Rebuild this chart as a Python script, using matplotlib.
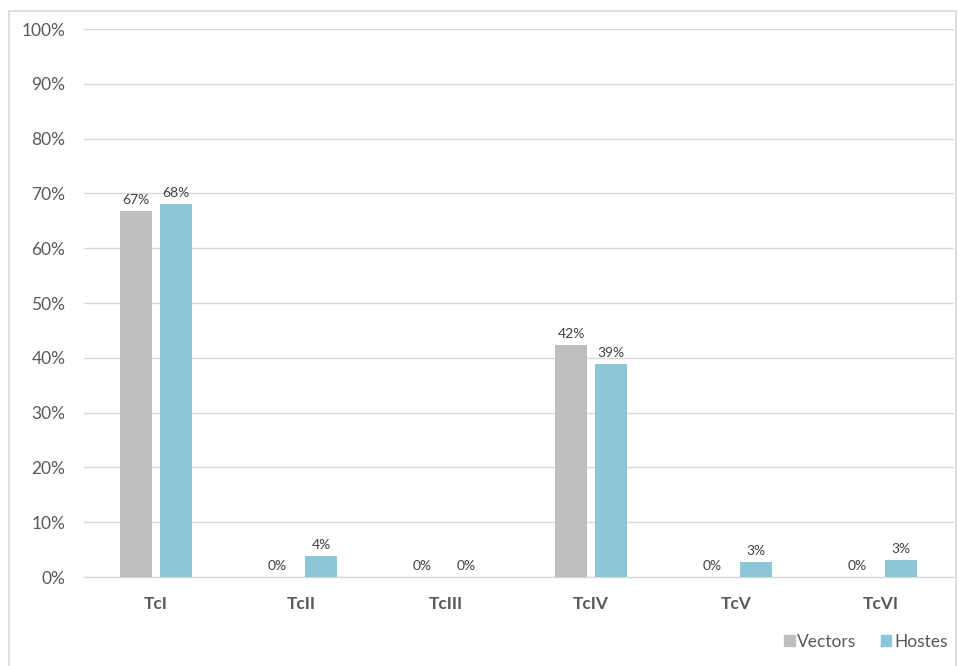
import matplotlib
matplotlib.use("Agg")
import matplotlib.pyplot as plt
import numpy as np
from matplotlib.patches import Rectangle, Patch

categories = ["TcI", "TcII", "TcIII", "TcIV", "TcV", "TcVI"]
vectors = [66.7, 0.0, 0.0, 42.3, 0.0, 0.0]
hostes = [68.0, 3.8, 0.0, 38.8, 2.7, 3.1]
vectors_labels = ["67%", "0%", "0%", "42%", "0%", "0%"]
hostes_labels = ["68%", "4%", "0%", "39%", "3%", "3%"]
yticks = list(range(0, 101, 10))

plt.rcParams['font.family'] = ['Lato', 'DejaVu Sans']

fig = plt.figure(figsize=(9.59, 6.66), dpi=100)
ax = fig.add_axes([83.5/959, 1-577/666, 870/959, (577-29)/666])

gray = "#BFBFBF"
blue = "#8DC6D9"
x = np.arange(len(categories))
w = 0.22
gap = 0.055
b1 = ax.bar(x - w/2 - gap/2, vectors, w, color=gray, label="Vectors", zorder=3)
b2 = ax.bar(x + w/2 + gap/2, hostes, w, color=blue, label="Hostes", zorder=3)

for rect, lab in zip(b1, vectors_labels):
    ax.text(rect.get_x() + rect.get_width()/2 - (0.03 if rect.get_height() == 0 else 0),
            rect.get_height() + 1.0, lab, ha="center", va="bottom",
            fontsize=10, color="#404040")
for rect, lab in zip(b2, hostes_labels):
    ax.text(rect.get_x() + rect.get_width()/2,
            rect.get_height() + 1.0, lab, ha="center", va="bottom",
            fontsize=10, color="#404040")

ax.set_xlim(-0.5, len(categories) - 0.5)
ax.set_ylim(0, 100)
ax.set_yticks(yticks)
ax.set_yticklabels([f"{t}%" for t in yticks], fontsize=12.5, color="#595959")
ax.set_xticks(x)
ax.set_xticklabels(categories, fontsize=12.5, fontweight="bold", color="#595959")
ax.tick_params(axis="both", length=0)
ax.tick_params(axis="y", pad=13)
ax.tick_params(axis="x", pad=14)
ax.grid(axis="y", color="#D9D9D9", linewidth=1, zorder=0)
for s in ["top", "right", "left"]:
    ax.spines[s].set_visible(False)
ax.spines["bottom"].set_color("#D9D9D9")
ax.spines["bottom"].set_linewidth(1)

leg = fig.legend(handles=[Patch(color=gray, label="Vectors"), Patch(color=blue, label="Hostes")],
                 loc="center right", bbox_to_anchor=(963/959, 1-642/666), ncol=2,
                 frameon=False, fontsize=12.5, handlelength=0.6, handleheight=0.6,
                 handletextpad=0.15, columnspacing=1.4, labelcolor="#595959")

fig.patches.append(Rectangle((9/959, -0.01), (956-9)/959, 1.01 - 11/666,
                             transform=fig.transFigure, fill=False,
                             edgecolor="#D9D9D9", linewidth=1.2))

fig.savefig("out.png", dpi=100)
